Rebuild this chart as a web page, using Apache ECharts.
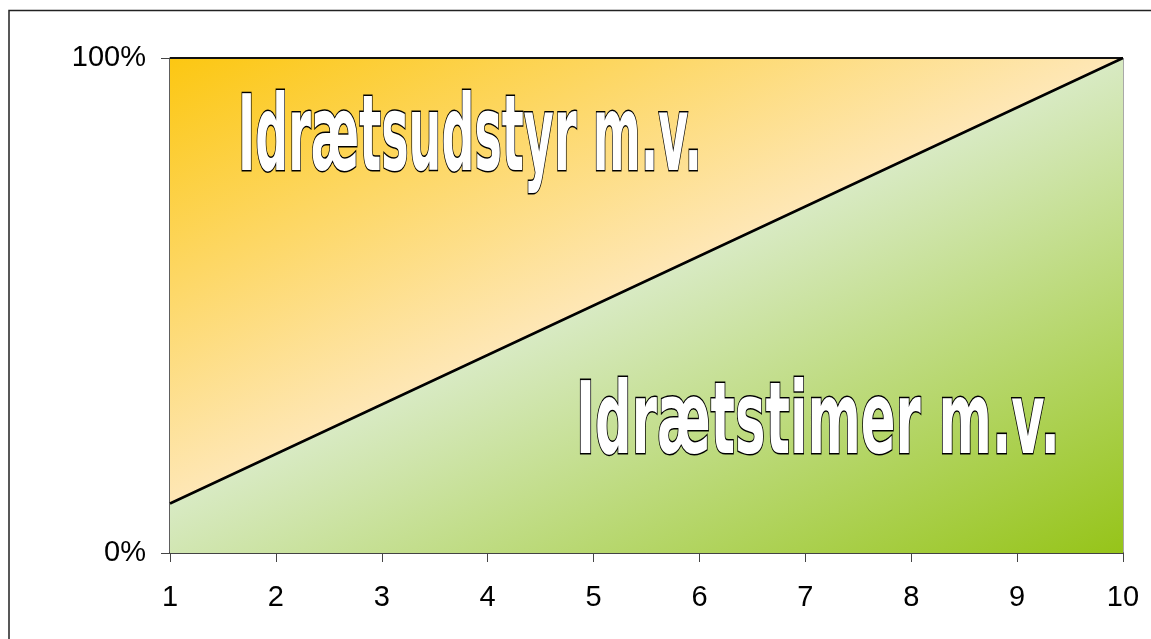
<!DOCTYPE html>
<html>
<head>
<meta charset="utf-8">
<script src="https://cdn.jsdelivr.net/npm/echarts@6/dist/echarts.min.js"></script>
<style>
html,body{margin:0;padding:0;background:#fff;}
#chart{width:1151px;height:639px;}
</style>
</head>
<body>
<div id="chart"></div>
<script>
const categories = ['1','2','3','4','5','6','7','8','9','10'];
const timerValues = [10, 20, 30, 40, 50, 60, 70, 80, 90, 100];   // Idrætstimer m.v. (bottom, green)
const udstyrValues = [90, 80, 70, 60, 50, 40, 30, 20, 10, 0];    // Idrætsudstyr m.v. (top, orange)
const yTicks = [0, 100];
const labelUdstyr = 'Idrætsudstyr m.v.';
const labelTimer = 'Idrætstimer m.v.';

const chart = echarts.init(document.getElementById('chart'), null, {renderer: 'canvas'});

const gx = 170, gy = 58, gx2 = 532, gy2 = 830;
const orangeGrad = {type: 'linear', x: gx, y: gy, x2: gx2, y2: gy2, global: true,
  colorStops: [{offset: 0, color: '#FCC712'}, {offset: 0.474, color: '#FEE7B6'}, {offset: 1, color: '#FEE7B6'}]};
const greenGrad = {type: 'linear', x: gx, y: gy, x2: gx2, y2: gy2, global: true,
  colorStops: [{offset: 0, color: '#D8EAC3'}, {offset: 0.474, color: '#D8EAC3'}, {offset: 1, color: '#96C419'}]};

const FONT = '"DejaVu Sans"';
const measureCtx = document.createElement('canvas').getContext('2d');
function fitScale(txt, size, targetW) {
  measureCtx.font = 'bold ' + size + 'px ' + FONT;
  return targetW / measureCtx.measureText(txt).width;
}

const outlineText = (txt, x, y, size, targetW) => ({
  type: 'text', x: x, y: y, scaleX: fitScale(txt, size, targetW), scaleY: 1, z: 100,
  style: {text: txt, x: 0, y: 0, fontFamily: FONT, fontWeight: 'bold', fontSize: size,
    fill: '#ffffff', stroke: '#000000', lineWidth: 3, align: 'left', verticalAlign: 'middle'}
});

chart.setOption({
  animation: false,
  backgroundColor: '#ffffff',
  grid: {left: 170, top: 58, right: 28, bottom: 86, show: true, borderColor: '#555', borderWidth: 1, backgroundColor: 'transparent'},
  xAxis: {
    type: 'category', data: categories, boundaryGap: false,
    axisLine: {show: true, lineStyle: {color: '#222', width: 1.5}},
    axisTick: {show: true, alignWithLabel: true, length: 9, lineStyle: {color: '#444', width: 1}},
    axisLabel: {color: '#000', fontSize: 29, fontFamily: 'Liberation Sans', margin: 30},
    splitLine: {show: false}
  },
  yAxis: {
    type: 'value', min: 0, max: 100, interval: 100,
    axisLine: {show: true, lineStyle: {color: '#444', width: 1.5}},
    axisTick: {show: true, length: 9, lineStyle: {color: '#444', width: 1}},
    axisLabel: {color: '#000', fontSize: 29, fontFamily: 'Liberation Sans', margin: 24,
      formatter: v => (yTicks.indexOf(v) >= 0 ? v + '%' : '')},
    splitLine: {show: false}
  },
  series: [
    {name: labelTimer, type: 'line', stack: 'total', data: timerValues, symbol: 'none',
      lineStyle: {color: '#000', width: 2.5}, areaStyle: {color: greenGrad, opacity: 1}, z: 2},
    {name: labelUdstyr, type: 'line', stack: 'total', data: udstyrValues, symbol: 'none',
      lineStyle: {color: '#111', width: 2}, areaStyle: {color: orangeGrad, opacity: 1}, z: 1}
  ],
  graphic: [
    {type: 'rect', z: 100, shape: {x: 9, y: 10.5, width: 1300, height: 800},
      style: {fill: 'none', stroke: '#222', lineWidth: 1.5}},
    outlineText(labelUdstyr, 238, 142, 106, 464),
    outlineText(labelTimer, 576, 427, 100, 484)
  ]
});
</script>
</body>
</html>
